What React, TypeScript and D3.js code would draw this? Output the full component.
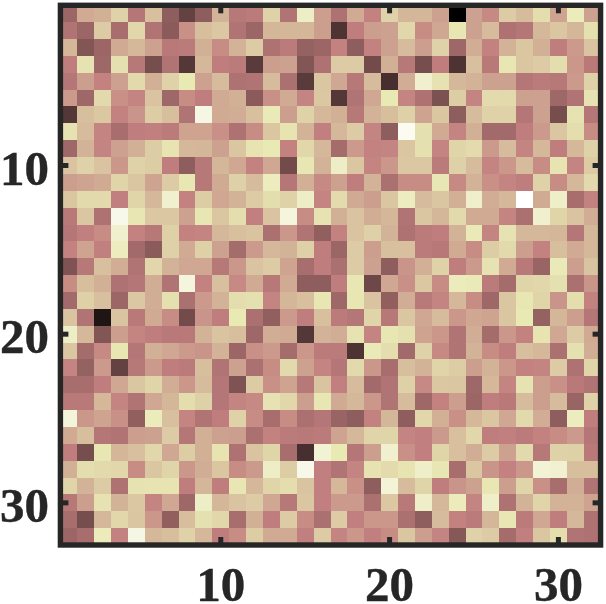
import React from "react";
import * as d3 from "d3";

const row01 = [24,50,52,65,32,58,20,10,20,53,33,35,65,31,80,46,30,50,38,65,54,54,47,0,47,40,62,56,70,48,77,47];
const row02 = [31,24,62,28,67,31,19,42,57,61,31,24,54,54,54,46,6,36,46,47,67,41,49,74,47,56,30,32,55,60,54,71];
const row03 = [54,17,24,50,55,47,34,35,52,41,53,62,30,35,22,24,38,20,38,47,56,46,65,25,51,38,53,60,52,36,45,59];
const row04 = [36,72,25,71,33,14,31,7,55,36,35,8,46,47,17,30,62,62,13,52,33,14,36,6,58,34,74,60,62,70,44,34];
const row05 = [32,46,38,47,68,52,65,75,47,56,30,31,56,29,8,60,49,33,56,5,51,83,72,55,53,47,47,32,35,33,45,65];
const row06 = [45,25,68,42,39,59,25,41,36,50,52,19,42,50,39,61,7,31,49,75,39,30,15,63,39,69,68,47,47,25,31,72];
const row07 = [7,57,61,38,43,63,57,31,90,50,51,58,76,46,65,55,52,33,53,57,64,48,60,20,56,65,65,32,47,14,72,32];
const row08 = [72,56,39,28,36,37,35,48,48,42,30,41,60,73,53,37,55,62,39,20,95,71,50,39,52,26,26,36,45,60,70,41];
const row09 = [25,53,39,47,52,63,73,55,54,47,60,73,75,38,67,55,27,45,38,39,60,71,39,66,69,45,56,39,55,36,55,65];
const row10 = [59,65,59,44,65,63,36,20,33,54,49,38,49,13,74,53,80,60,39,44,61,61,35,64,56,39,44,56,41,73,39,62];
const row11 = [46,48,50,66,60,48,62,74,33,50,64,56,78,32,52,40,47,36,53,29,41,41,74,40,53,42,39,36,65,41,55,68];
const row12 = [60,68,68,37,66,55,83,38,63,49,53,62,70,65,80,39,69,50,46,60,78,56,60,52,82,51,55,100,50,81,28,38];
const row13 = [34,60,30,92,74,61,61,47,74,60,70,37,59,88,41,72,52,59,51,54,31,60,54,68,50,50,39,29,83,66,59,51];
const row14 = [32,37,41,83,38,33,64,38,39,55,58,59,29,44,31,21,38,59,64,53,30,35,36,53,76,39,72,55,55,54,32,55];
const row15 = [38,48,37,78,26,19,64,50,64,47,27,45,55,53,64,36,24,62,46,58,58,35,33,50,41,63,68,46,38,57,50,55];
const row16 = [16,33,58,51,31,67,53,49,49,33,44,59,62,48,28,36,29,62,47,20,43,52,65,36,45,72,50,34,23,76,46,59];
const row17 = [41,57,52,30,32,51,31,88,38,58,40,50,33,50,20,20,36,74,12,49,42,61,41,77,76,35,27,66,67,71,29,43];
const row18 = [26,64,58,24,61,51,71,29,45,53,70,71,39,54,58,74,25,74,59,21,51,34,39,55,41,25,60,74,66,43,70,38];
const row19 = [59,31,1,59,34,50,41,13,43,36,75,29,21,45,36,58,35,32,66,33,60,49,56,44,49,48,60,75,22,54,46,32];
const row20 = [80,55,17,46,39,36,34,34,53,59,57,25,51,50,7,53,51,72,39,74,71,48,44,31,51,27,44,38,73,49,62,50];
const row21 = [60,27,40,74,32,52,49,45,43,53,24,42,45,27,44,35,35,6,76,70,26,65,40,31,53,41,36,57,55,29,71,51];
const row22 = [39,22,45,10,33,45,36,35,57,31,47,29,41,68,47,39,32,68,44,28,57,53,66,63,46,53,44,38,39,62,30,66];
const row23 = [28,28,36,49,60,66,51,44,56,32,16,62,42,48,33,59,37,56,26,31,64,40,61,60,25,55,39,72,46,42,34,31];
const row24 = [34,34,55,39,31,49,54,70,64,32,39,40,72,67,46,74,50,55,44,31,56,25,38,46,24,36,34,56,46,56,23,65];
const row25 = [87,44,48,42,21,77,58,39,31,36,65,41,28,41,29,32,23,20,38,54,20,67,52,42,55,60,49,68,51,20,78,36];
const row26 = [50,57,32,31,46,47,62,32,52,47,46,29,38,35,34,35,48,55,66,66,39,37,45,58,67,36,37,35,38,41,45,32];
const row27 = [36,14,74,54,58,67,49,63,52,73,30,59,66,28,5,85,75,32,46,83,42,37,66,58,51,62,47,68,33,65,64,34];
const row28 = [52,70,68,67,41,60,66,44,51,60,41,45,80,63,92,37,31,39,72,69,73,81,74,28,60,43,38,44,85,84,57,57];
const row29 = [66,53,62,30,72,73,73,36,54,36,74,55,66,70,59,37,55,42,20,86,56,66,36,43,47,74,46,66,42,28,51,31];
const row30 = [33,46,72,53,61,39,49,25,80,54,59,62,49,33,60,37,45,45,29,61,34,81,55,77,39,81,30,53,66,53,53,48];
const row31 = [28,14,55,67,60,44,21,57,71,67,28,52,36,62,41,29,62,37,44,44,29,20,56,38,35,54,74,35,49,36,55,30];
const row32 = [24,28,77,38,90,55,57,65,55,36,41,63,50,50,37,62,39,44,37,41,60,46,39,18,65,62,27,37,60,70,31,30];

const rows = [row01,row02,row03,row04,row05,row06,row07,row08,row09,row10,row11,row12,row13,row14,row15,row16,
  row17,row18,row19,row20,row21,row22,row23,row24,row25,row26,row27,row28,row29,row30,row31,row32];
const tickValues = [10, 20, 30];

const clamp = (v: number) => Math.max(0, Math.min(1, v));
const pink = (t: number) => {
  const hr = clamp(t / 0.375), hg = clamp((t - 0.375) / 0.375), hb = clamp((t - 0.75) / 0.25);
  const f = (h: number) => Math.round(255 * Math.sqrt((2 * t + h) / 3));
  return `rgb(${f(hr)},${f(hg)},${f(hb)})`;
};

const W = 606, H = 604;
const left = 60.4, right = 600.6, top = 5.3, bottom = 545;
const INK = "#262626";
const FRAME = 5.4;
const TICK = 8;

export default function App() {
  const x = d3.scaleLinear().domain([0.5, 32.5]).range([left, right]);
  const y = d3.scaleLinear().domain([0.5, 32.5]).range([top, bottom]);
  const color = d3.scaleSequential(pink).domain([0, 100]);
  const font = { fontFamily: "'Liberation Serif', 'Times New Roman', serif", fontWeight: 700, fontSize: 49, fill: INK, stroke: INK, strokeWidth: 0.4 };
  return (
    <svg width={W} height={H} viewBox={`0 0 ${W} ${H}`} style={{ position: "absolute", left: 0, top: 0, display: "block", background: "#fff" }}>
      <g shapeRendering="crispEdges">
        {rows.map((r, i) => r.map((v, j) => (
          <rect key={`${i}-${j}`} x={x(j + 0.5)} y={y(i + 0.5)} width={x(j + 1.5) - x(j + 0.5) + 0.5} height={y(i + 1.5) - y(i + 0.5) + 0.5} fill={color(v)} />
        )))}
      </g>
      <rect x={left} y={top} width={right - left} height={bottom - top} fill="none" stroke={INK} strokeWidth={FRAME} />
      {tickValues.map((t) => (
        <g key={t} stroke={INK} strokeWidth={5}>
          <line x1={x(t)} x2={x(t)} y1={bottom} y2={bottom - TICK} />
          <line x1={x(t)} x2={x(t)} y1={top} y2={top + TICK} />
          <line y1={y(t)} y2={y(t)} x1={left} x2={left + TICK} />
          <line y1={y(t)} y2={y(t)} x1={right} x2={right - TICK} />
        </g>
      ))}
      {tickValues.map((t) => (
        <text key={`x${t}`} x={x(t)} y={600.5} textAnchor="middle" {...font}>{t}</text>
      ))}
      {tickValues.map((t) => (
        <text key={`y${t}`} x={49} y={y(t) + 19} textAnchor="end" {...font}>{t}</text>
      ))}
    </svg>
  );
}
